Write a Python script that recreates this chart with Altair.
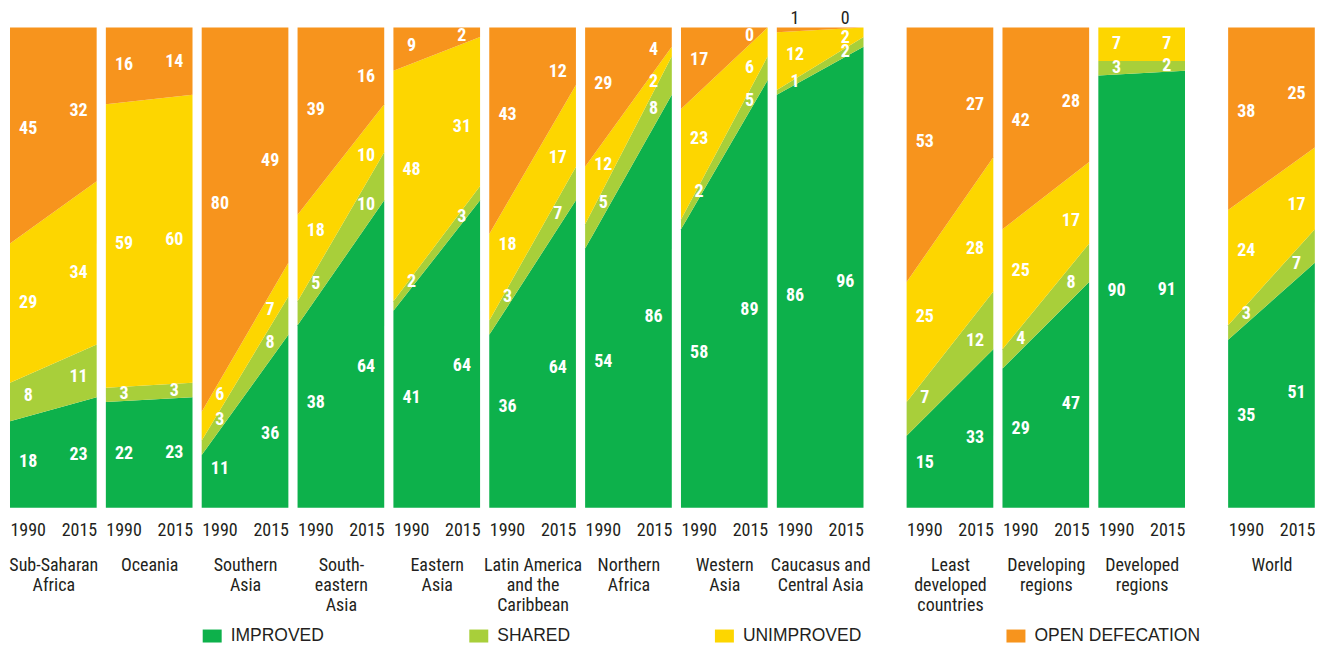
import altair as alt
import pandas as pd

# ---------------- data ----------------
regions = [
    "Sub-Saharan Africa", "Oceania", "Southern Asia", "South-eastern Asia",
    "Eastern Asia", "Latin America and the Caribbean", "Northern Africa",
    "Western Asia", "Caucasus and Central Asia", "Least developed countries",
    "Developing regions", "Developed regions", "World",
]
region_titles = [
    ["Sub-Saharan", "Africa"], ["Oceania"], ["Southern", "Asia"],
    ["South-", "eastern", "Asia"], ["Eastern", "Asia"],
    ["Latin America", "and the", "Caribbean"], ["Northern", "Africa"],
    ["Western", "Asia"], ["Caucasus and", "Central Asia"],
    ["Least", "developed", "countries"], ["Developing", "regions"],
    ["Developed", "regions"], ["World"],
]
group_sizes = [9, 3, 1]
years = [1990, 2015]
categories = ["IMPROVED", "SHARED", "UNIMPROVED", "OPEN DEFECATION"]
colors = ["#0DB14B", "#A8CF3A", "#FDD600", "#F7941D"]

improved_1990 = [18, 22, 11, 38, 41, 36, 54, 58, 86, 15, 29, 90, 35]
improved_2015 = [23, 23, 36, 64, 64, 64, 86, 89, 96, 33, 47, 91, 51]
shared_1990 = [8, 3, 3, 5, 2, 3, 5, 2, 1, 7, 4, 3, 3]
shared_2015 = [11, 3, 8, 10, 3, 7, 8, 5, 2, 12, 8, 2, 7]
unimproved_1990 = [29, 59, 6, 18, 48, 18, 12, 23, 12, 25, 25, 7, 24]
unimproved_2015 = [34, 60, 7, 10, 31, 17, 2, 6, 2, 28, 17, 7, 17]
open_1990 = [45, 16, 80, 39, 9, 43, 29, 17, 1, 53, 42, 0, 38]
open_2015 = [32, 14, 49, 16, 2, 12, 4, 0, 0, 27, 28, 0, 25]

labels_above = [("Caucasus and Central Asia", "OPEN DEFECATION")]

# ---------------- tables ----------------
series = {
    "IMPROVED": (improved_1990, improved_2015),
    "SHARED": (shared_1990, shared_2015),
    "UNIMPROVED": (unimproved_1990, unimproved_2015),
    "OPEN DEFECATION": (open_1990, open_2015),
}
LABEL_T = {1990: 0.21, 2015: 0.79}

area_rows, label_rows = [], []
for i, r in enumerate(regions):
    lo = {1990: 0.0, 2015: 0.0}
    for k, c in enumerate(categories):
        v = {1990: series[c][0][i], 2015: series[c][1][i]}
        for y in years:
            area_rows.append({"region": r, "year": y, "category": c, "order": k, "value": v[y]})
        hi = {y: lo[y] + v[y] for y in years}
        if v[1990] != 0 or v[2015] != 0:
            for y in years:
                t = LABEL_T[y]
                lower = lo[1990] + t * (lo[2015] - lo[1990])
                upper = hi[1990] + t * (hi[2015] - hi[1990])
                label_rows.append({
                    "region": r, "category": c, "text": str(v[y]),
                    "year": years[0] + t * (years[1] - years[0]),
                    "ly": (lower + upper) / 2,
                    "above": (r, c) in labels_above,
                })
        lo = hi

area_df = pd.DataFrame(area_rows)
label_df = pd.DataFrame(label_rows)

FONT_C = "Liberation Sans Narrow, Arial Narrow, Roboto Condensed, DejaVu Sans Condensed, Liberation Sans, sans-serif"
FONT_L = "Liberation Sans, Arial, sans-serif"
DARK = "#231F20"

W, H = 86.8, 481
GROUP_GAP = 43
PANEL_GAP = 9


def x_enc(i):
    return alt.X("year:Q", scale=alt.Scale(domain=years, nice=False, zero=False, padding=0),
                 axis=alt.Axis(
                     values=years, format="d", labelFlush=True, ticks=False, domain=False,
                     grid=False, title=region_titles[i], labelFont=FONT_C, labelFontSize=18,
                     labelColor=DARK, labelPadding=14, titleFont=FONT_C, titleFontSize=18,
                     titleFontWeight="normal", titleColor=DARK, titleLineHeight=20,
                     titlePadding=17, titleBaseline="top"))


def panel(i):
    r = regions[i]
    yscale = alt.Scale(domain=[0, 100], nice=False, zero=True)
    area = alt.Chart(area_df).transform_filter(alt.datum.region == r).mark_area(
        opacity=1, interpolate="linear"
    ).encode(
        x=x_enc(i),
        y=alt.Y("value:Q", stack="zero", scale=yscale, axis=None),
        color=alt.Color("category:N", scale=alt.Scale(domain=categories, range=colors),
                        legend=alt.Legend(
                            title=None, orient="none", direction="horizontal", columns=4,
                            legendX=193, legendY=600, columnPadding=145,
                            symbolType="M-1,-0.684H1V0.684H-1Z", symbolSize=361,
                            symbolStrokeWidth=0, symbolOpacity=1, labelOffset=9,
                            labelFont=FONT_L, labelFontSize=17.5, labelColor=DARK,
                            labelLimit=400)),
        order=alt.Order("order:Q", sort="ascending"),
    )
    inside = alt.Chart(label_df).transform_filter(
        (alt.datum.region == r) & (alt.datum.above == False)
    ).mark_text(
        font=FONT_C, fontSize=18, fontWeight="bold", color="white",
        align="center", baseline="middle",
    ).encode(
        x=x_enc(i),
        y=alt.Y("ly:Q", scale=yscale, axis=None),
        text="text:N",
    )
    above = alt.Chart(label_df).transform_filter(
        (alt.datum.region == r) & (alt.datum.above == True)
    ).transform_calculate(yy="100").mark_text(
        font=FONT_C, fontSize=18, fontWeight="normal", color=DARK,
        align="center", baseline="bottom", dy=1,
    ).encode(
        x=x_enc(i),
        y=alt.Y("yy:Q", scale=yscale, axis=None),
        text="text:N",
    )
    return alt.layer(area, inside, above).properties(width=W, height=H)


def spacer():
    return alt.Chart(pd.DataFrame({"s": [0]})).mark_point(opacity=0).encode(
        x=alt.X("s:Q", axis=None), y=alt.Y("s:Q", axis=None)
    ).properties(width=GROUP_GAP - 2 * PANEL_GAP, height=H)


items = []
start = 0
for gi, n in enumerate(group_sizes):
    if gi > 0:
        items.append(spacer())
    items.extend(panel(i) for i in range(start, start + n))
    start += n

chart = alt.hconcat(*items, spacing=PANEL_GAP, bounds="flush").properties(
    padding={"left": 0, "top": 2, "right": 0, "bottom": 0}
).configure_view(stroke=None)

chart.save("out.html", embed_options={"renderer": "svg", "actions": False})
